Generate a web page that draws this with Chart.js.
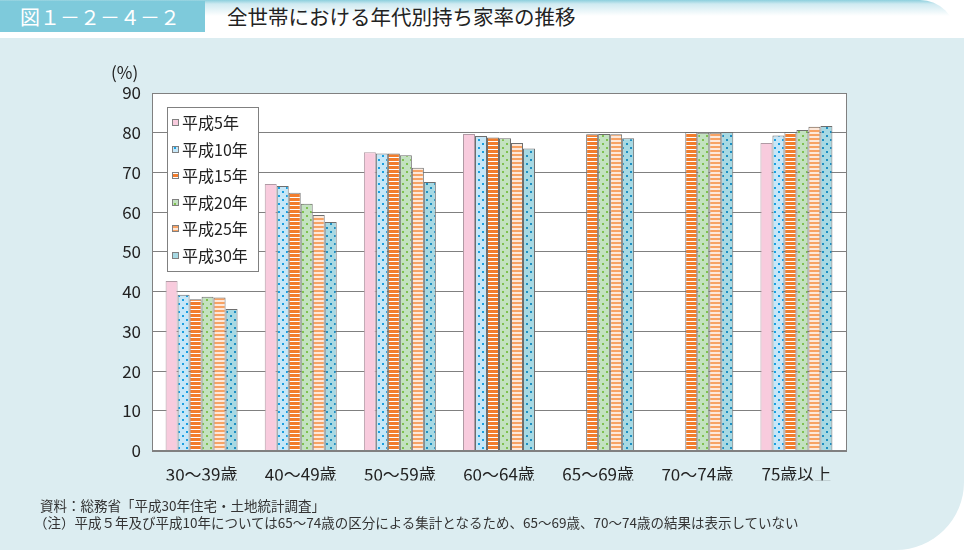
<!DOCTYPE html>
<html>
<head>
<meta charset="utf-8">
<script src="https://cdn.jsdelivr.net/npm/chart.js@4"></script>
<style>
  body { margin: 0; background: #ffffff; width: 964px; height: 550px; overflow: hidden; position: relative; font-family: "Noto Sans CJK JP", sans-serif; }
  #header { position: absolute; left: 0; top: 0; width: 956px; height: 36px; background: linear-gradient(to bottom, #8ccfdd 0px, #cfeaf1 4px, #ffffff 16px); border-top-right-radius: 38px; }
  #figno { position: absolute; left: 0; top: 1px; width: 205px; height: 31px; background: #7ecadb; color: #fff; font-size: 20px; line-height: 31px; padding-left: 20px; box-sizing: border-box; }
  #title { position: absolute; left: 227px; top: 1px; height: 31px; line-height: 31px; font-size: 20.5px; color: #222; }
  #panel { position: absolute; left: 0; top: 38px; width: 964px; height: 512px; background: #dcedf1; border-bottom-right-radius: 68px; }
  #wrap { position: absolute; left: 0; top: 0; width: 964px; height: 460px; }
  .note { position: absolute; left: 40px; font-size: 13.5px; color: #333; white-space: nowrap; }
</style>
</head>
<body>
<div id="header"></div>
<div id="figno">図１－２－４－２</div>
<div id="title">全世帯における年代別持ち家率の推移</div>
<div id="panel">
  <div id="wrap"><canvas id="chart" width="964" height="460"></canvas></div>
  <div class="note" style="top:457px;">資料：総務省「平成30年住宅・土地統計調査」</div>
  <div class="note" style="top:474px; left:34px;">（注）平成５年及び平成10年については65～74歳の区分による集計となるため、65～69歳、70～74歳の結果は表示していない</div>
</div>
<script>
const categories = ['30～39歳', '40～49歳', '50～59歳', '60～64歳', '65～69歳', '70～74歳', '75歳以上'];
const seriesNames = ['平成5年', '平成10年', '平成15年', '平成20年', '平成25年', '平成30年'];
const h5 = [42.7, 67.1, 75.1, 79.7, null, null, 77.4];
const h10 = [39.2, 66.6, 74.8, 79.2, null, null, 79.3];
const h15 = [38.1, 64.9, 74.8, 78.8, 79.6, 80.2, 80.2];
const h20 = [38.7, 62.1, 74.3, 78.6, 79.7, 80.0, 80.7];
const h25 = [38.5, 59.3, 71.2, 77.4, 79.6, 80.0, 81.5];
const h30 = [35.6, 57.5, 67.6, 76.0, 78.6, 80.2, 81.7];
const yTicks = [0, 10, 20, 30, 40, 50, 60, 70, 80, 90];

function makePattern(w, h, draw) {
    const c = document.createElement('canvas');
    c.width = w; c.height = h;
    const g = c.getContext('2d');
    draw(g);
    return g.createPattern(c, 'repeat');
}
function dots(base, dot) {
    return makePattern(8, 8, function (g) {
        g.fillStyle = base; g.fillRect(0, 0, 8, 8);
        g.fillStyle = dot;
        g.fillRect(2, 1, 2, 2);
        g.fillRect(6, 5, 2, 2);
    });
}
function stripes(base, line, lineH) {
    return makePattern(4, 4, function (g) {
        g.fillStyle = base; g.fillRect(0, 0, 4, 4);
        g.fillStyle = line; g.fillRect(0, 4 - lineH, 4, lineH);
    });
}

const fills = [
    '#f8cbdd',
    dots('#c6e7f8', '#1a9fe0'),
    stripes('#f27d2d', '#ffffff', 1),
    dots('#c3e2c0', '#7fc050'),
    stripes('#f7a264', '#fde8da', 2),
    dots('#a7d9e3', '#1d8fc2')
];
const seriesData = [h5, h10, h15, h20, h25, h30];

const frameAndLegend = {
    id: 'frameAndLegend',
    beforeDraw(chart) {
        const a = chart.chartArea, ctx = chart.ctx;
        ctx.save();
        ctx.fillStyle = '#ffffff';
        ctx.fillRect(a.left, a.top, a.right - a.left, a.bottom - a.top);
        ctx.restore();
    },
    afterDraw(chart) {
        const a = chart.chartArea, ctx = chart.ctx;
        ctx.save();
        ctx.strokeStyle = '#808080';
        ctx.lineWidth = 1;
        ctx.strokeRect(Math.round(a.left) + 0.5, Math.round(a.top) + 0.5, Math.round(a.right - a.left), Math.round(a.bottom - a.top));
        // legend box
        const lx = 167, ly = 69, lw = 91, lh = 164;
        ctx.fillStyle = '#ffffff';
        ctx.fillRect(lx, ly, lw, lh);
        ctx.strokeRect(lx + 0.5, ly + 0.5, lw, lh);
        ctx.font = '16px "Noto Sans CJK JP"';
        ctx.textBaseline = 'middle';
        chart.data.datasets.forEach(function (ds, i) {
            const cy = 84 + i * 26.6;
            ctx.fillStyle = ds.backgroundColor;
            ctx.fillRect(172, Math.round(cy) - 3, 7, 7);
            ctx.strokeStyle = '#808080';
            ctx.strokeRect(172.5, Math.round(cy) - 2.5, 6, 6);
            ctx.fillStyle = '#222';
            ctx.fillText(ds.label, 182, cy + 1);
        });
        // unit
        ctx.font = '17px "Noto Sans CJK JP"';
        ctx.fillStyle = '#222';
        ctx.textAlign = 'left';
        ctx.fillText('(%)', 111, 35);
        ctx.restore();
    }
};

new Chart(document.getElementById('chart').getContext('2d'), {
    type: 'bar',
    data: {
        labels: categories,
        datasets: seriesNames.map(function (name, i) {
            return {
                label: name,
                data: seriesData[i],
                backgroundColor: fills[i],
                borderColor: i === 0 ? '#b09aa4' : '#6e6e6e',
                borderWidth: 1,
                borderSkipped: 'bottom',
                categoryPercentage: 0.726,
                barPercentage: 1
            };
        })
    },
    options: {
        responsive: false,
        animation: false,
        layout: { padding: { left: 0, right: 118, top: 55, bottom: 17.5 } },
        plugins: { legend: { display: false }, tooltip: { enabled: false } },
        scales: {
            x: {
                grid: { display: false },
                border: { color: '#808080' },
                ticks: { color: '#222', font: { size: 17, family: '"Noto Sans CJK JP"' }, padding: 6, maxRotation: 0 },
                afterFit(s) { s.height = 30; }
            },
            y: {
                min: 0, max: 90,
                afterBuildTicks(s) { s.ticks = yTicks.map(function (v) { return { value: v }; }); },
                grid: { color: '#808080', drawTicks: false },
                border: { color: '#808080' },
                ticks: { color: '#222', font: { size: 17, family: '"Noto Sans CJK JP"' }, padding: 11 },
                afterFit(s) { s.width = 152; }
            }
        }
    },
    plugins: [frameAndLegend]
});
</script>
</body>
</html>
